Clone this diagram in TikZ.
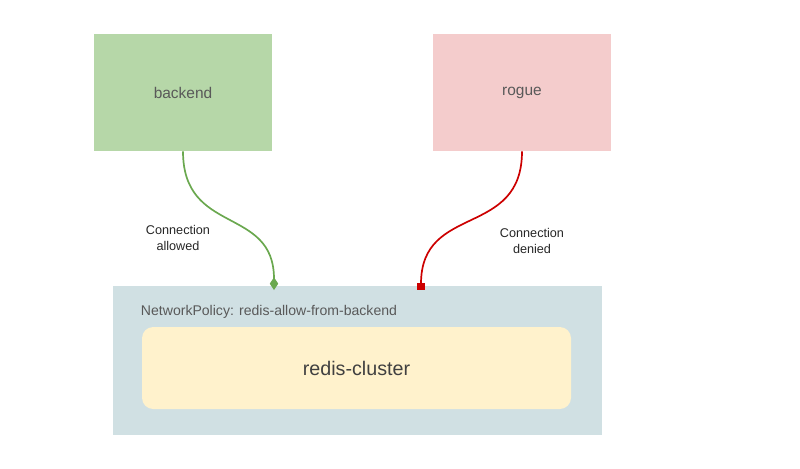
\documentclass[tikz,border=0pt]{standalone}
\usepackage{fontspec}
\setmainfont{Liberation Sans}
\usetikzlibrary{arrows.meta}
\definecolor{allowgreen}{HTML}{6AA84F}
\definecolor{denyred}{HTML}{CC0000}
\definecolor{textgray}{HTML}{595959}
\tikzset{
    pod/.style={minimum width=178*0.025cm, minimum height=117*0.025cm, font=\fontsize{11}{13}\selectfont, text=textgray},
    conn/.style={font=\fontsize{9}{11}\selectfont, align=center, text=black!85}
}

\begin{document}
\begin{tikzpicture}[x=0.025cm, y=-0.025cm]
        \useasboundingbox (0,0) rectangle (800,468);
        \node[pod, fill={rgb,255:red,182;green,215;blue,168}] (backend) at (183,92.5) {backend};
        \node[pod, fill={rgb,255:red,244;green,204;blue,204}] (rogue) at (522,92.5) {rogue};
        \fill[fill={rgb,255:red,208;green,224;blue,227}] (113,286) rectangle (602,435);
        \node[anchor=west, font=\fontsize{10}{12}\selectfont, text=textgray] (policy) at (136,312) {NetworkPolicy: redis-allow-from-backend};
        \node[fill={rgb,255:red,255;green,242;blue,204}, rounded corners=8pt, minimum width=429*0.025cm, minimum height=82*0.025cm, font=\fontsize{14}{16}\selectfont, text=black!75] (redis) at (356.5,368) {redis-cluster};
        \coordinate (allowend) at (274,290);
        \coordinate (denyend) at (421,290);
        \draw[allowgreen, line width=1.2pt, -{Diamond[length=9pt,width=6pt]}] (backend.south) to[out=-90, in=90, looseness=1.3] (allowend);
        \draw[denyred, line width=1.2pt, -{Square[length=5pt,width=5pt]}] (rogue.south) to[out=-90, in=90, looseness=1.3] (denyend);
        \node[conn] (allowlabel) at (178,238) {Connection\\allowed};
        \node[conn] (denylabel) at (532,241) {Connection\\denied};
    \end{tikzpicture}
\end{document}
